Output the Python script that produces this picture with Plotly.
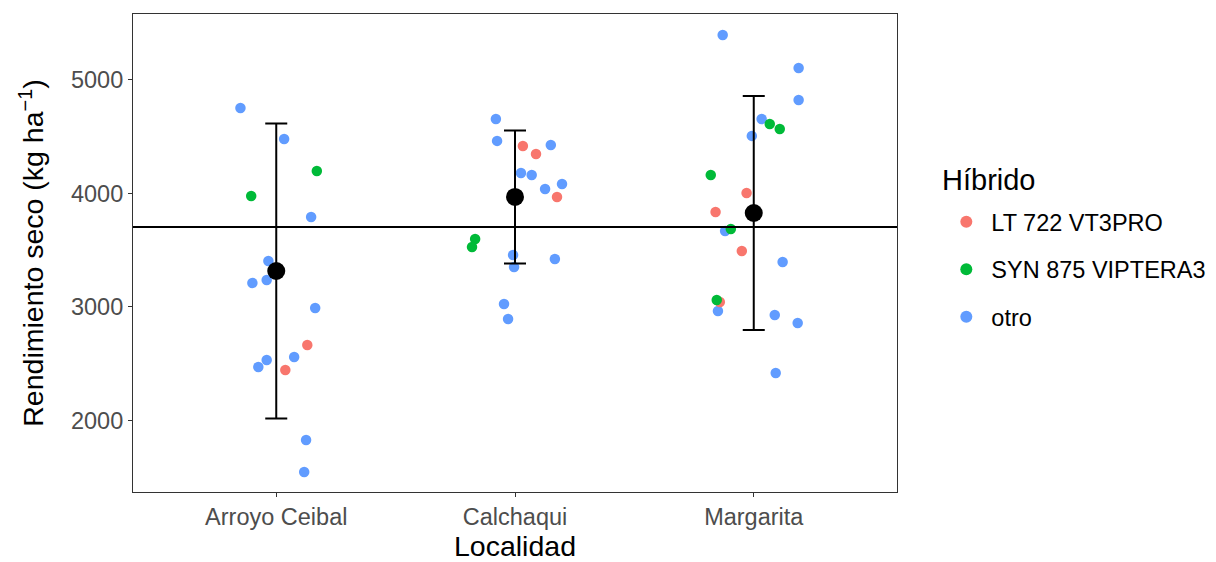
import plotly.graph_objects as go

# ---- data ----
localidades = ["Arroyo Ceibal", "Calchaqui", "Margarita"]
hibridos = ["LT 722 VT3PRO", "SYN 875 VIPTERA3", "otro"]
colores = {"LT 722 VT3PRO": "#F8766D", "SYN 875 VIPTERA3": "#00BA38", "otro": "#619CFF"}

# Arroyo Ceibal
ac_hib = ["otro", "otro", "SYN 875 VIPTERA3", "SYN 875 VIPTERA3", "otro", "otro", "otro", "otro",
          "otro", "LT 722 VT3PRO", "otro", "otro", "otro", "LT 722 VT3PRO", "otro", "otro"]
ac_rend = [4753, 4480, 4198, 3978, 3793, 3405, 3211, 3238, 2991, 2665, 2559, 2533, 2471, 2445, 1828, 1546]
ac_jit = [-0.15, 0.033, 0.17, -0.105, 0.146, -0.033, -0.10, -0.04, 0.163, 0.13, 0.075, -0.04, -0.075, 0.038, 0.125, 0.117]

# Calchaqui
ca_hib = ["otro", "otro", "LT 722 VT3PRO", "LT 722 VT3PRO", "otro", "otro", "otro", "otro", "otro",
          "LT 722 VT3PRO", "SYN 875 VIPTERA3", "SYN 875 VIPTERA3", "otro", "otro", "otro", "otro", "otro"]
ca_rend = [4656, 4463, 4418, 4348, 4427, 4181, 4163, 4040, 4084, 3969, 3599, 3529, 3458, 3352, 3423, 3026, 2894]
ca_jit = [-0.08, -0.075, 0.033, 0.088, 0.15, 0.025, 0.07, 0.126, 0.197, 0.176, -0.167, -0.18, -0.008, -0.004, 0.167, -0.046, -0.029]

# Margarita
ma_hib = ["otro", "otro", "otro", "otro", "SYN 875 VIPTERA3", "SYN 875 VIPTERA3", "otro", "SYN 875 VIPTERA3",
          "LT 722 VT3PRO", "LT 722 VT3PRO", "otro", "SYN 875 VIPTERA3", "LT 722 VT3PRO", "otro",
          "LT 722 VT3PRO", "SYN 875 VIPTERA3", "otro", "otro", "otro", "otro"]
ma_rend = [5396, 5106, 4824, 4656, 4612, 4568, 4507, 4163, 4004, 3837, 3670, 3687, 3493, 3396,
           3044, 3062, 2965, 2930, 2859, 2419]
ma_jit = [-0.13, 0.188, 0.188, 0.033, 0.067, 0.109, -0.008, -0.18, -0.03, -0.16, -0.12, -0.096, -0.05, 0.121,
          -0.142, -0.155, -0.15, 0.088, 0.184, 0.092]

# Mean and standard deviation per locality
medias = [3317, 3969, 3828]
desvios = [1300, 585, 1031]
media_general = 3705

# ---- build figure ----
grupos = [(ac_hib, ac_rend, ac_jit), (ca_hib, ca_rend, ca_jit), (ma_hib, ma_rend, ma_jit)]

fig = go.Figure()
draw_order = ["otro", "LT 722 VT3PRO", "SYN 875 VIPTERA3"]
for h in draw_order:
    xs, ys = [], []
    for i, (hib, rend, jit) in enumerate(grupos):
        for hh, r, j in zip(hib, rend, jit):
            if hh == h:
                xs.append(i + 1 + j)
                ys.append(r)
    fig.add_trace(go.Scatter(
        x=xs, y=ys, mode="markers", name=h, legendgroup=h,
        legendrank=hibridos.index(h) + 1,
        marker=dict(color=colores[h], size=10.5, line=dict(width=0)),
        hoverinfo="skip",
    ))

fig.add_trace(go.Scatter(
    x=[1, 2, 3], y=medias, mode="markers", showlegend=False,
    marker=dict(color="black", size=18),
    error_y=dict(type="data", array=desvios, visible=True, color="black", thickness=2, width=11),
))

fig.add_shape(type="line", xref="x domain", yref="y", x0=0, x1=1,
              y0=media_general, y1=media_general, line=dict(color="black", width=2), layer="above")

axis_common = dict(showline=True, mirror=True, linecolor="#333333", linewidth=1.1,
                   ticks="outside", ticklen=4, tickcolor="#333333", tickwidth=1.1,
                   showgrid=False, zeroline=False, automargin=False,
                   tickfont=dict(size=23.5, color="#4D4D4D"))

# legend title drawn as an annotation so that its gap to the items matches
fig.add_annotation(text="Híbrido", xref="paper", yref="paper", x=1.0563, y=0.6527,
                   xanchor="left", yanchor="middle", showarrow=False,
                   font=dict(size=29, color="black"))

fig.update_layout(
    width=1208, height=554,
    margin=dict(l=125, r=319, t=6, b=70, autoexpand=False),
    plot_bgcolor="white", paper_bgcolor="white",
    font=dict(family="Liberation Sans, Arial, sans-serif", color="black"),
    xaxis=dict(range=[0.4, 3.6], tickvals=[1, 2, 3], ticktext=localidades,
               title=dict(text="Localidad", font=dict(size=28.5), standoff=4), **axis_common),
    yaxis=dict(range=[1370, 5581], tickvals=[2000, 3000, 4000, 5000],
               title=dict(text="Rendimiento seco (kg ha<sup>−1</sup>)", font=dict(size=28.5), standoff=18),
               **axis_common),
    legend=dict(font=dict(size=23.5),
                x=1.058, xanchor="left", y=0.6109, yanchor="top",
                tracegroupgap=14, itemsizing="constant", itemwidth=40),
)

fig.write_html("out.html")
